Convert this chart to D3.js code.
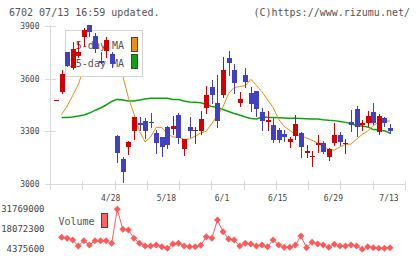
<!DOCTYPE html>
<html>
<head>
<meta charset="utf-8">
<script src="https://cdn.jsdelivr.net/npm/d3@7"></script>
<style>
body { margin: 0; background: #fff; }
svg { display: block; }
</style>
</head>
<body>
<svg id="chart"></svg>
<script>
// daily candles, index 0..60 (10 trading days between labels)
const openP  = [3477,3522,3750,3662,3731,3839,3907,3845,3701,3759,3740,3273,3140,3212,3302,3346,3361,3353,3289,3266,
                3326,3315,3393,3198,3323,3302,3302,3435,3554,3460,3507,3716,3649,3463,3621,3517,3530,3412,3355,3336,
                3308,3283,3238,3275,3292,3178,3152,3220,3232,3156,3232,3279,3228,3355,3427,3338,3346,3408,3294,3374,3321];
const highP  = [3477,3649,3750,3807,3811,3889,3907,3858,3754,3839,3754,3279,3151,3247,3380,3380,3374,3406,3308,3269,
                3330,3387,3403,3256,3380,3326,3418,3560,3592,3621,3725,3758,3684,3522,3659,3554,3530,3431,3416,3374,
                3317,3308,3269,3393,3298,3222,3188,3279,3245,3207,3346,3298,3256,3422,3444,3365,3416,3460,3399,3380,3342];
const lowP   = [3477,3517,3672,3655,3725,3788,3845,3750,3688,3722,3668,3127,3013,3171,3255,3308,3260,3326,3175,3159,
                3203,3285,3235,3165,3269,3232,3285,3403,3460,3326,3494,3621,3520,3446,3554,3418,3387,3308,3308,3241,
                3238,3247,3212,3256,3156,3152,3104,3184,3178,3137,3222,3222,3178,3304,3273,3308,3332,3340,3285,3332,3289];
const closeP = [3477,3627,3672,3769,3754,3877,3868,3767,3688,3820,3684,3175,3066,3239,3380,3338,3304,3347,3235,3212,
                3222,3330,3260,3256,3304,3308,3370,3507,3507,3361,3649,3688,3574,3484,3583,3456,3427,3359,3365,3251,
                3251,3269,3256,3342,3209,3188,3160,3232,3184,3199,3279,3238,3234,3336,3323,3349,3387,3349,3387,3346,3304];

// moving averages as drawn on the chart
const ma5  = [null,3396,3444,3504,3567,3660,3740,3788,3807,3791,3804,3765,3615,3492,3400,3300,3240,3268,3323,3322,
              3286,3267,3267,3254,3256,3273,3290,3301,3345,3390,3440,3515,3550,3555,3560,3596,3562,3525,3480,3435,
              3368,3328,3305,3282,3273,3262,3249,3233,3215,3196,3193,3211,3226,3227,3256,3283,3302,3332,3353,3360,3358];
const ma25 = [null,3379,3379,3382,3387,3393,3404,3419,3433,3450,3470,3482,3478,3473,3473,3478,3484,3488,3488,3488,
              3488,3481,3481,3473,3467,3465,3463,3453,3441,3436,3424,3413,3402,3393,3382,3373,3370,3382,3380,3379,
              3378,3376,3374,3374,3373,3372,3370,3370,3366,3363,3361,3356,3351,3345,3333,3330,3325,3310,3308,3304,3289];

const volume = [null,12593600,11908800,10744600,6635600,10265200,7320400,10265200,10265200,10265200,8484600,31769000,18072300,17592900,11908800,8484600,6635600,6635600,7320400,6156200,
                5060400,8005200,8484600,6635600,6156200,6156200,7114900,13004500,11908800,24441300,16428700,11429400,10744600,6635600,8484600,8005200,6635600,7320400,6156200,10744600,
                7320400,5745300,5745300,7320400,13483900,5471300,9169400,8005200,7320400,5745300,7799800,6635600,6635600,7320400,6635600,4375600,6156200,5471300,5060400,5060400,5471300];

const priceTicks = [3000, 3300, 3600, 3900];
const labelIdx = [10, 20, 30, 40, 50, 60];
const labelText = ["4/28", "5/18", "6/1", "6/15", "6/29", "7/13"];
const volTicks = [4375600, 18072300, 31769000];

const width = 420, height = 259;
const mono = "'DejaVu Sans Mono', monospace";
const upColor = "#d40000", downColor = "#4040c0";
const axisColor = "#d9d9d9", textColor = "#555";

const svg = d3.select("#chart").attr("width", width).attr("height", height);
svg.append("rect").attr("width", width).attr("height", height).attr("fill", "#fff");

const x = d3.scaleLinear().domain([0, 60]).range([56, 390]);
const y = d3.scaleLinear().domain([3000, 3900]).range([184, 26]);
const yv = d3.scaleLinear().domain([volTicks[0], volTicks[2]]).range([249.3, 209.3]);
const grid = d3.scaleLinear().domain([0, 11]).range([50, 405]);

// header
svg.append("text").attr("x", 9).attr("y", 16)
  .attr("font-family", mono).attr("font-size", 10).attr("fill", textColor)
  .text("6702 07/13 16:59 updated.");
svg.append("text").attr("x", 410).attr("y", 16).attr("text-anchor", "end")
  .attr("font-family", mono).attr("font-size", 10).attr("fill", textColor)
  .text("(C)https://www.rizumu.net/");

// axes
const ax = svg.append("g").attr("stroke", axisColor).attr("shape-rendering", "crispEdges");
ax.append("line").attr("x1", 50.5).attr("x2", 50.5).attr("y1", 25).attr("y2", 190);
ax.append("line").attr("x1", 45).attr("x2", 406).attr("y1", y(3000) + 0.5).attr("y2", y(3000) + 0.5);
ax.selectAll(".yt").data(priceTicks).join("line")
  .attr("x1", 45).attr("x2", 56)
  .attr("y1", d => Math.round(y(d)) + 0.5).attr("y2", d => Math.round(y(d)) + 0.5);
ax.selectAll(".xt").data(d3.range(12)).join("line")
  .attr("x1", d => Math.round(grid(d)) + 0.5).attr("x2", d => Math.round(grid(d)) + 0.5)
  .attr("y1", 181).attr("y2", 190);

svg.append("g").attr("font-family", mono).attr("font-size", 8).attr("fill", "#444")
  .attr("text-anchor", "end")
  .selectAll("text").data(priceTicks).join("text")
  .attr("x", 39.5).attr("y", d => y(d) + 3)
  .text(d => d);

svg.append("g").attr("font-family", mono).attr("font-size", 8).attr("fill", "#444")
  .attr("text-anchor", "middle")
  .selectAll("text").data(labelIdx).join("text")
  .attr("x", d => x(d) - 1).attr("y", 200.5)
  .text((d, i) => labelText[i]);

// moving averages
const lineOf = arr => d3.line().defined(d => d != null).x((d, i) => x(i)).y(d => y(d))(arr);
svg.append("path").attr("d", lineOf(ma25)).attr("fill", "none")
  .attr("stroke", "#10a010").attr("stroke-width", 1.5);
svg.append("path").attr("d", lineOf(ma5)).attr("fill", "none")
  .attr("stroke", "#f08c10").attr("stroke-width", 1);

// legend box (lines hidden under it, candles drawn over it)
const lg = svg.append("g");
lg.append("rect").attr("x", 65.5).attr("y", 30.5).attr("width", 77).attr("height", 46)
  .attr("fill", "#fff").attr("stroke", "#d4d4d4");
lg.append("text").attr("x", 124).attr("y", 49).attr("text-anchor", "end")
  .attr("font-family", mono).attr("font-size", 10).attr("fill", textColor).text("5-day MA");
lg.append("text").attr("x", 124).attr("y", 67).attr("text-anchor", "end")
  .attr("font-family", mono).attr("font-size", 10).attr("fill", textColor).text("25-day MA");
lg.append("rect").attr("x", 131.5).attr("y", 37.5).attr("width", 6).attr("height", 14)
  .attr("fill", "#f08c10").attr("stroke", "#444");
lg.append("rect").attr("x", 131.5).attr("y", 54.5).attr("width", 6).attr("height", 14)
  .attr("fill", "#10a010").attr("stroke", "#444");

// candles
const cg = svg.append("g").attr("shape-rendering", "crispEdges");
const idx = d3.range(openP.length);
const col = i => closeP[i] >= openP[i] ? upColor : downColor;
cg.selectAll(".wick").data(idx).join("line")
  .attr("x1", i => Math.round(x(i)) + 0.5).attr("x2", i => Math.round(x(i)) + 0.5)
  .attr("y1", i => Math.round(y(highP[i]))).attr("y2", i => Math.round(y(lowP[i])) + 1)
  .attr("stroke", col);
cg.selectAll(".body").data(idx).join("rect")
  .attr("x", i => Math.round(x(i)) - 2).attr("width", 5)
  .attr("y", i => Math.round(y(Math.max(openP[i], closeP[i]))))
  .attr("height", i => Math.max(1, Math.round(y(Math.min(openP[i], closeP[i]))) - Math.round(y(Math.max(openP[i], closeP[i])))))
  .attr("fill", col);

// volume
svg.append("g").attr("font-family", mono).attr("font-size", 9).attr("fill", "#444")
  .attr("text-anchor", "end")
  .selectAll("text").data(volTicks).join("text")
  .attr("x", 44.5).attr("y", d => yv(d) + 3)
  .text(d => d);

svg.append("text").attr("x", 58.5).attr("y", 225)
  .attr("font-family", mono).attr("font-size", 10).attr("fill", textColor).text("Volume");
svg.append("rect").attr("x", 101.5).attr("y", 213.5).attr("width", 6).attr("height", 14)
  .attr("fill", "#ff6262").attr("stroke", "#444");

const volLine = d3.line().defined(d => d != null).x((d, i) => x(i)).y(d => yv(d));
svg.append("path").attr("d", volLine(volume)).attr("fill", "none")
  .attr("stroke", "#ff5a5a").attr("stroke-width", 1);
svg.append("g").attr("fill", "#ff5a5a")
  .selectAll("path").data(idx.filter(i => volume[i] != null)).join("path")
  .attr("transform", i => `translate(${x(i)},${yv(volume[i])})`)
  .attr("d", d3.symbol(d3.symbolDiamond2, 30));
</script>
</body>
</html>
